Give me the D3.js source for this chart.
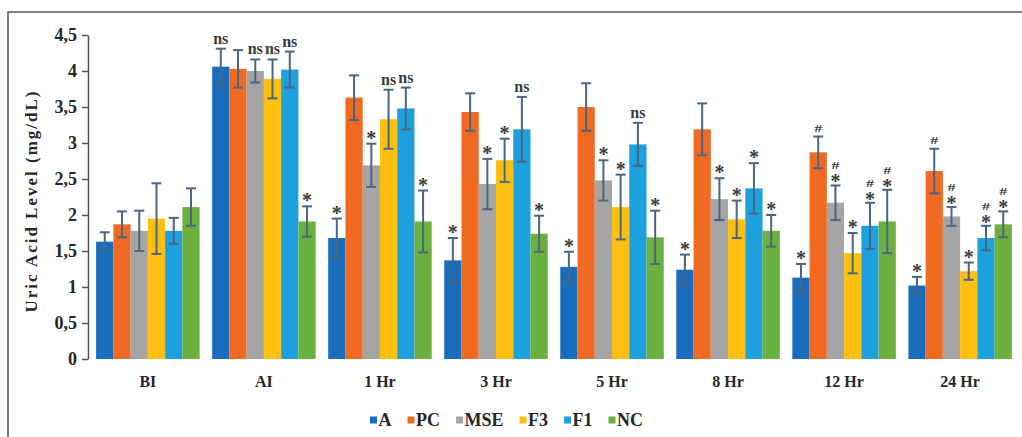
<!DOCTYPE html>
<html>
<head>
<meta charset="utf-8">
<script src="https://cdn.jsdelivr.net/npm/d3@7"></script>
<style>
  html, body { margin: 0; padding: 0; background: #fff; }
  svg { display: block; }
  text { font-family: "Liberation Serif", "DejaVu Serif", serif; font-weight: bold; }
</style>
</head>
<body>
<svg id="chart" width="1022" height="437"></svg>
<script>
// groups (time points) and series
const groups = ["BI", "AI", "1 Hr", "3 Hr", "5 Hr", "8 Hr", "12 Hr", "24 Hr"];
const series = ["A", "PC", "MSE", "F3", "F1", "NC"];
const colors = ["#1a6cbd", "#f06a24", "#a5a5a5", "#fdc010", "#1da0de", "#6cb13f"];

// mean uric acid (mg/dL) per series, one value per group
const valA   = [1.63, 4.06, 1.68, 1.37, 1.28, 1.24, 1.13, 1.02];
const valPC  = [1.87, 4.03, 3.63, 3.43, 3.50, 3.19, 2.87, 2.61];
const valMSE = [1.78, 4.00, 2.69, 2.43, 2.48, 2.22, 2.17, 1.98];
const valF3  = [1.95, 3.89, 3.33, 2.76, 2.11, 1.94, 1.47, 1.22];
const valF1  = [1.78, 4.02, 3.48, 3.19, 2.98, 2.37, 1.85, 1.68];
const valNC  = [2.11, 1.91, 1.91, 1.74, 1.69, 1.78, 1.91, 1.87];

// error bar (+/-) per series
const errA   = [0.13, 0.25, 0.27, 0.31, 0.21, 0.21, 0.19, 0.12];
const errPC  = [0.18, 0.26, 0.31, 0.26, 0.33, 0.36, 0.22, 0.31];
const errMSE = [0.28, 0.16, 0.30, 0.35, 0.28, 0.29, 0.24, 0.13];
const errF3  = [0.49, 0.27, 0.41, 0.30, 0.45, 0.26, 0.28, 0.12];
const errF1  = [0.18, 0.25, 0.29, 0.45, 0.30, 0.35, 0.32, 0.17];
const errNC  = [0.26, 0.21, 0.43, 0.25, 0.37, 0.22, 0.44, 0.18];

// significance marks ("*#" = star with # above it)
const sigA   = ["", "ns", "*", "*", "*", "*", "*", "*"];
const sigPC  = ["", "", "", "", "", "", "#", "#"];
const sigMSE = ["", "ns", "*", "*", "*", "*", "*#", "*#"];
const sigF3  = ["", "ns", "ns", "*", "*", "*", "*", "*"];
const sigF1  = ["", "ns", "ns", "ns", "ns", "*", "*#", "*#"];
const sigNC  = ["", "*", "*", "*", "*", "*", "*#", "*#"];

const yTicks = [0, 0.5, 1, 1.5, 2, 2.5, 3, 3.5, 4, 4.5];
const yTickLabels = ["0", "0,5", "1", "1,5", "2", "2,5", "3", "3,5", "4", "4,5"];

const values = [valA, valPC, valMSE, valF3, valF1, valNC];
const errors = [errA, errPC, errMSE, errF3, errF1, errNC];
const sigs = [sigA, sigPC, sigMSE, sigF3, sigF1, sigNC];

// flatten into rows for binding
let rows = [];
groups.forEach((g, gi) => {
    series.forEach((s, si) => {
        rows.push({ group: g, series: s, si: si, v: values[si][gi], e: errors[si][gi], sig: sigs[si][gi] });
    });
});

const svg = d3.select("#chart");
const axisX = 88, yTop = 35, yBottom = 359;

// outer frame (only top & left visible)
svg.append("path")
    .attr("d", "M8,437 V12 H1022")
    .attr("fill", "none")
    .attr("stroke", "#555")
    .attr("stroke-width", 1.5);

const x0 = d3.scaleBand().domain(groups).range([axisX, 1020]).paddingInner(0.108).paddingOuter(0.07);
const x1 = d3.scaleBand().domain(series).range([0, x0.bandwidth()]);
const y = d3.scaleLinear().domain([0, 4.5]).range([yBottom, yTop]);
const color = d3.scaleOrdinal().domain(series).range(colors);

// y axis
const yAxis = svg.append("g")
    .attr("transform", `translate(${axisX},0)`)
    .call(d3.axisLeft(y).tickValues(yTicks).tickFormat((d, i) => yTickLabels[i]).tickSize(6).tickSizeOuter(0).tickPadding(5));
yAxis.select(".domain").attr("stroke", "#555").attr("stroke-width", 1.5);
yAxis.selectAll(".tick line").attr("stroke", "#555").attr("stroke-width", 1.5);
yAxis.selectAll(".tick text")
    .style("font-family", '"Liberation Serif", "DejaVu Serif", serif')
    .style("font-weight", "bold")
    .style("font-size", "18px")
    .attr("fill", "#262626");

// y title
svg.append("text")
    .attr("transform", "rotate(-90)")
    .attr("x", -(91 + 313) / 2)
    .attr("y", 37)
    .attr("text-anchor", "middle")
    .attr("font-size", 17)
    .attr("fill", "#262626")
    .attr("textLength", 221)
    .attr("lengthAdjust", "spacing")
    .text("Uric Acid Level (mg/dL)");

// bars
const bars = svg.append("g");
bars.selectAll("rect")
    .data(rows)
    .join("rect")
    .attr("x", d => x0(d.group) + x1(d.series))
    .attr("y", d => y(d.v))
    .attr("width", x1.bandwidth())
    .attr("height", d => y(0) - y(d.v))
    .attr("fill", d => color(d.series));

// error bars
const errG = svg.append("g").attr("stroke", "#4a6680").attr("stroke-width", 2).attr("fill", "none");
rows.forEach(d => {
    const cx = x0(d.group) + x1(d.series) + x1.bandwidth() / 2;
    const y1 = y(d.v + d.e), y2 = y(d.v - d.e);
    errG.append("line").attr("x1", cx).attr("x2", cx).attr("y1", y1).attr("y2", y2);
    errG.append("line").attr("x1", cx - 5).attr("x2", cx + 5).attr("y1", y1).attr("y2", y1);
    errG.append("line").attr("x1", cx - 5).attr("x2", cx + 5).attr("y1", y2).attr("y2", y2);
});

// significance labels
const sigG = svg.append("g").attr("fill", "#3a3a3a");
rows.filter(d => d.sig !== "").forEach(d => {
    const cx = x0(d.group) + x1(d.series) + x1.bandwidth() / 2;
    const top = y(d.v + d.e);
    if (d.sig === "ns") {
        sigG.append("text").attr("x", cx).attr("y", top - 5)
            .attr("text-anchor", "middle").attr("font-size", 16).text("ns");
        return;
    }
    const hasStar = d.sig.includes("*");
    if (hasStar) {
        sigG.append("text").attr("x", cx).attr("y", d.sig.includes("#") ? top + 3 : top + 1)
            .attr("text-anchor", "middle").attr("font-size", 20).text("*");
    }
    if (d.sig.includes("#")) {
        // squashed # like the original glyph
        sigG.append("text")
            .attr("transform", `translate(${cx},${hasStar ? top - 16 : top - 5}) scale(1.0,0.62)`)
            .attr("text-anchor", "middle")
            .attr("font-size", 16)
            .text("#");
    }
});

// x labels
svg.append("g").selectAll("text")
    .data(groups)
    .join("text")
    .attr("x", d => x0(d) + x0.bandwidth() / 2)
    .attr("y", 387)
    .attr("text-anchor", "middle")
    .attr("font-size", 16)
    .attr("fill", "#262626")
    .text(d => d);

// legend
const legend = svg.append("g");
let lx = 370;
series.forEach((s, i) => {
    legend.append("rect").attr("x", lx).attr("y", 416.5).attr("width", 7).attr("height", 7).attr("fill", colors[i]);
    const t = legend.append("text").attr("x", lx + 8.5).attr("y", 426)
        .attr("font-size", 18).attr("fill", "#262626").text(s);
    lx += 8.5 + t.node().getComputedTextLength() + 16;
});
</script>
</body>
</html>
